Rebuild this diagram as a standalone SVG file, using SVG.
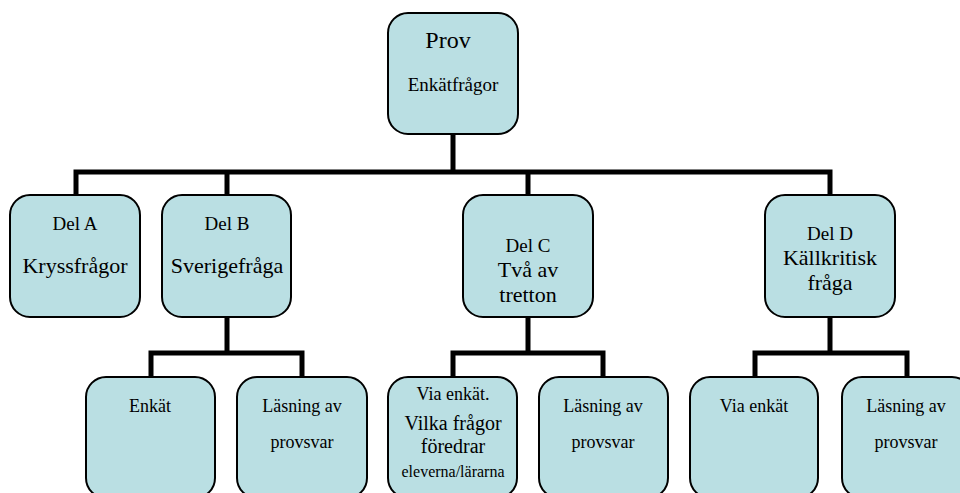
<svg xmlns="http://www.w3.org/2000/svg" width="960" height="493" viewBox="0 0 960 493">
<style>
.box{fill:#badfe3;stroke:#000;stroke-width:2}
text{font-family:"Liberation Serif","Times New Roman",serif;fill:#000;text-anchor:middle}
.c{fill:none;stroke:#000;stroke-width:5;stroke-linecap:square;stroke-linejoin:miter}
</style>
<rect width="960" height="493" fill="#fff"/>
<g id="connectors">
<path class="c" d="M453 134V172M76 195V172H830V195M227 172V195M528 172V195"/>
<path class="c" d="M227 317V353M151 377V353H302V377"/>
<path class="c" d="M528 317V353M453 377V353H603V377"/>
<path class="c" d="M830 317V353M755 377V353H907V377"/>
</g>
<g id="prov" font-family="Liberation Serif, serif">
<rect class="box" x="388" y="13" width="130" height="121" rx="20"/>
<text x="448" y="48" font-size="24">Prov</text>
<text x="453" y="91" font-size="19">Enkätfrågor</text>
</g>
<g id="delA" font-family="Liberation Serif, serif">
<rect class="box" x="10" y="195" width="130" height="122" rx="20"/>
<text x="75" y="230" font-size="19">Del A</text>
<text x="75" y="273" font-size="22">Kryssfrågor</text>
</g>
<g id="delB" font-family="Liberation Serif, serif">
<rect class="box" x="162" y="195" width="129" height="122" rx="20"/>
<text x="227" y="230" font-size="19">Del B</text>
<text x="227" y="273" font-size="22">Sverigefråga</text>
</g>
<g id="delC" font-family="Liberation Serif, serif">
<rect class="box" x="463" y="195" width="130" height="122" rx="20"/>
<text x="528" y="252" font-size="19">Del C</text>
<text x="528" y="277" font-size="22">Två av</text>
<text x="528" y="302" font-size="22">tretton</text>
</g>
<g id="delD" font-family="Liberation Serif, serif">
<rect class="box" x="765" y="195" width="130" height="122" rx="20"/>
<text x="830" y="240" font-size="19">Del D</text>
<text x="830" y="265" font-size="22">Källkritisk</text>
<text x="830" y="290" font-size="22">fråga</text>
</g>
<g id="enkatB" font-family="Liberation Serif, serif">
<rect class="box" x="86" y="377" width="129" height="121" rx="20"/>
<text x="150" y="412" font-size="18">Enkät</text>
</g>
<g id="lasningB" font-family="Liberation Serif, serif">
<rect class="box" x="237" y="377" width="130" height="121" rx="20"/>
<text x="302" y="412" font-size="18">Läsning av</text>
<text x="302" y="448" font-size="18">provsvar</text>
</g>
<g id="enkatC" font-family="Liberation Serif, serif">
<rect class="box" x="388" y="377" width="129" height="121" rx="20"/>
<text x="453" y="400" font-size="18">Via enkät.</text>
<text x="453" y="430" font-size="20">Vilka frågor</text>
<text x="453" y="453" font-size="20">föredrar</text>
<text x="453" y="477" font-size="16">eleverna/lärarna</text>
</g>
<g id="lasningC" font-family="Liberation Serif, serif">
<rect class="box" x="539" y="377" width="129" height="121" rx="20"/>
<text x="603" y="412" font-size="18">Läsning av</text>
<text x="603" y="448" font-size="18">provsvar</text>
</g>
<g id="enkatD" font-family="Liberation Serif, serif">
<rect class="box" x="690" y="377" width="128" height="121" rx="20"/>
<text x="754" y="412" font-size="18">Via enkät</text>
</g>
<g id="lasningD" font-family="Liberation Serif, serif">
<rect class="box" x="842" y="377" width="130" height="121" rx="20"/>
<text x="906" y="412" font-size="18">Läsning av</text>
<text x="906" y="448" font-size="18">provsvar</text>
</g>
</svg>
